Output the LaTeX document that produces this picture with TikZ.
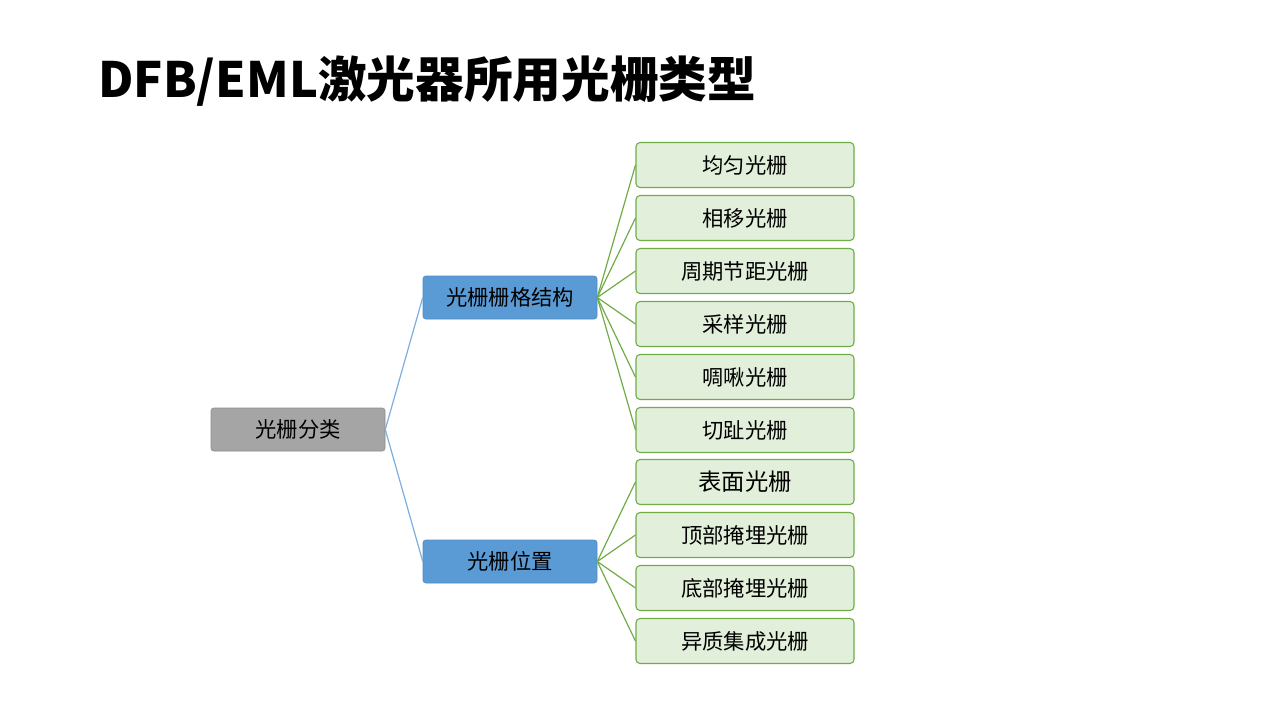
\documentclass[tikz,border=0pt]{standalone}
\usepackage{fontspec}
\setmainfont{Noto Sans CJK SC}
\usetikzlibrary{calc}

\definecolor{rootgray}{HTML}{A5A5A5}
\definecolor{midblue}{HTML}{5B9BD5}
\definecolor{leafgreen}{HTML}{E2EFDA}
\definecolor{leafline}{HTML}{70AD47}

\tikzset{
  rootbox/.style={draw=rootgray!85!black, fill=rootgray, rounded corners=2pt,
    minimum width=130.5pt, minimum height=32.25pt, inner sep=0pt,
    font=\fontsize{16}{18}\selectfont},
  midbox/.style={draw=midblue!90!black, fill=midblue, rounded corners=2pt,
    minimum width=130.5pt, minimum height=32.25pt, inner sep=0pt,
    font=\fontsize{16}{18}\selectfont},
  leafbox/.style={draw=leafline, fill=leafgreen, rounded corners=3pt, line width=0.8pt,
    minimum width=163.5pt, minimum height=33.75pt, inner sep=0pt,
    font=\fontsize{16}{18}\selectfont},
  blueline/.style={draw=midblue!80, line width=0.9pt},
  greenline/.style={draw=leafline, line width=0.9pt}
}

\begin{document}
\begin{tikzpicture}[x=0.75pt,y=-0.75pt]
  \useasboundingbox[fill=white] (0,0) rectangle (1269,714);

  % title
  \node[anchor=base west, inner sep=0pt, font=\fontsize{36.5}{40}\selectfont\bfseries]
    (title) at (98,97) {DFB/EML激光器所用光栅类型};

  \node[rootbox] (root) at (298,429.5) {光栅分类};
  \node[midbox] (grid) at (510,297.5) {光栅栅格结构};
  \node[midbox] (pos) at (510,561.5) {光栅位置};

  \foreach \name [count=\i] in {均匀光栅,相移光栅,周期节距光栅,采样光栅,啁啾光栅,切趾光栅} {
    \node[leafbox] (g\i) at (745,{165+53*(\i-1)}) {\name};
    \draw[greenline] (grid.east) -- (g\i.west);
  }

  \node[leafbox, font=\fontsize{17.5}{20}\selectfont] (p1) at (745,482) {表面光栅};
  \foreach \name [count=\i from 2] in {顶部掩埋光栅,底部掩埋光栅,异质集成光栅} {
    \node[leafbox] (p\i) at (745,{482+53*(\i-1)}) {\name};
  }
  \foreach \i in {1,...,4} {
    \draw[greenline] (pos.east) -- (p\i.west);
  }

  \draw[blueline] (root.east) -- (grid.west);
  \draw[blueline] (root.east) -- (pos.west);
\end{tikzpicture}
\end{document}
